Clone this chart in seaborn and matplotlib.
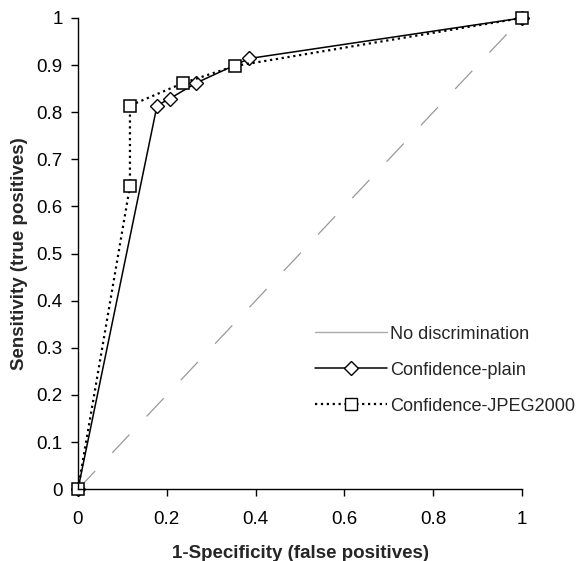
import matplotlib
matplotlib.use("Agg")
import matplotlib.pyplot as plt
import seaborn as sns
import pandas as pd
from matplotlib.lines import Line2D

sns.set_theme(style="ticks")
plt.rcParams['font.family'] = ['Liberation Sans', 'DejaVu Sans']

# Data
nodisc_x = [0.0, 1.0]
nodisc_y = [0.0, 1.0]
plain_x = [0.0, 0.178, 0.207, 0.266, 0.386, 1.0]
plain_y = [0.0, 0.814, 0.829, 0.862, 0.914, 1.0]
jpeg_x = [0.0, 0.117, 0.117, 0.237, 0.353, 1.0]
jpeg_y = [0.0, 0.643, 0.814, 0.862, 0.898, 1.0]
xticks = [0, 0.2, 0.4, 0.6, 0.8, 1]
yticks = [0, 0.1, 0.2, 0.3, 0.4, 0.5, 0.6, 0.7, 0.8, 0.9, 1]
tick_fmt = lambda v: "0" if v == 0 else ("1" if v == 1 else f"{v:g}")

FS = 13.5

fig = plt.figure(figsize=(5.82, 5.61), dpi=100)
ax = fig.add_axes([0.134, 0.128, 0.763, 0.840])

df_nd = pd.DataFrame({"x": nodisc_x, "y": nodisc_y})
df_pl = pd.DataFrame({"x": plain_x, "y": plain_y})
df_jp = pd.DataFrame({"x": jpeg_x, "y": jpeg_y})

sns.lineplot(data=df_nd, x="x", y="y", ax=ax, color="#999999", lw=0.9,
             sort=False, estimator=None)
ax.lines[-1].set_dashes([20, 20])
sns.lineplot(data=df_pl, x="x", y="y", ax=ax, color="black", lw=1.1,
             sort=False, estimator=None, marker="D", markersize=7,
             markerfacecolor="white", markeredgecolor="black",
             markeredgewidth=1.0)
sns.lineplot(data=df_jp, x="x", y="y", ax=ax, color="black", lw=1.6,
             sort=False, estimator=None, linestyle=":", marker="s",
             markersize=8.5, markerfacecolor="white", markeredgecolor="black",
             markeredgewidth=1.1)

ax.set_xlim(0, 1)
ax.set_ylim(0, 1)
ax.set_xticks(xticks)
ax.set_xticklabels([tick_fmt(v) for v in xticks])
ax.set_yticks(yticks)
ax.set_yticklabels([tick_fmt(v) for v in yticks])
ax.tick_params(axis="both", direction="out", length=5, width=1, colors="black",
               labelsize=FS)
ax.tick_params(axis="x", pad=11)
ax.tick_params(axis="y", pad=6)
for s in ["top", "right"]:
    ax.spines[s].set_visible(False)
for s in ["left", "bottom"]:
    ax.spines[s].set_color("black")
    ax.spines[s].set_linewidth(1)
for ln in ax.lines:
    ln.set_clip_on(False)

ax.set_xlabel("1-Specificity (false positives)", fontsize=FS, fontweight="bold")
ax.set_ylabel("Sensitivity (true positives)", fontsize=FS, fontweight="bold")
ax.xaxis.set_label_coords(0.5, -0.118)
ax.yaxis.set_label_coords(-0.112, 0.5)

handles = [
    Line2D([], [], color="#aaaaaa", lw=1),
    Line2D([], [], color="black", lw=1.1, marker="D", markersize=7,
           markerfacecolor="white", markeredgecolor="black"),
    Line2D([], [], color="black", lw=1.6, linestyle=":", marker="s", markersize=8.5,
           markerfacecolor="white", markeredgecolor="black"),
]
labels = ["No discrimination", "Confidence-plain", "Confidence-JPEG2000"]
fig.legend(handles, labels, loc="upper left", bbox_to_anchor=(0.541, 0.4197),
           frameon=False, fontsize=13.1, handlelength=3.95, handletextpad=0.2,
           labelspacing=1.05, borderpad=0, borderaxespad=0)

fig.savefig("out.png", dpi=100)
